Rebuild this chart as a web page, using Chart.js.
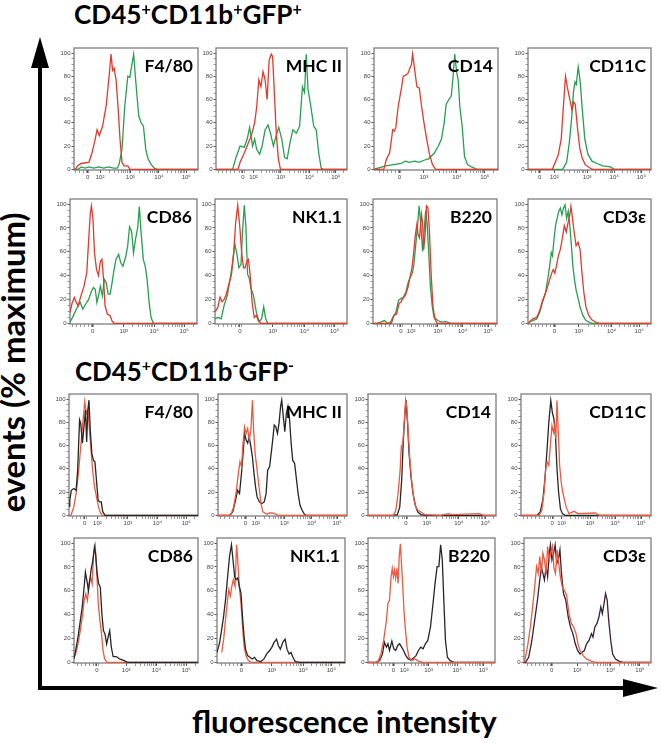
<!DOCTYPE html>
<html><head><meta charset="utf-8">
<script src="https://cdn.jsdelivr.net/npm/chart.js@4.4.1/dist/chart.umd.min.js"></script>
<style>
html,body{margin:0;padding:0;background:#fff;}
body{width:661px;height:743px;position:relative;overflow:hidden;}
.t{position:absolute;font-family:Lato,'Open Sans',sans-serif;font-weight:700;color:#000;white-space:nowrap;line-height:1;}
.sup{font-size:0.62em;position:relative;top:-0.6em;}
canvas{position:absolute;}
</style></head><body>
<svg width="661" height="743" style="position:absolute;left:0;top:0">
  <rect x="38" y="64" width="4" height="626" fill="#000"/>
  <polygon points="40,37 31,68 49,68" fill="#000"/>
  <rect x="38" y="686" width="588" height="4" fill="#000"/>
  <polygon points="658,688 623,679 623,697" fill="#000"/>
</svg>
<script>
// ---------- tick labels ----------
const LABELS_5 = ['0','10²','10³','10⁴','10⁵'];
const LABELS_4 = ['0','10³','10⁴','10⁵'];

// ---------- GFP+ group (red vs green) ----------
const A_F480_TICKS = [11, 21, 45.5, 68.5, 90.5];
const A_F480_RED = [[0,0],[1,0],[3,3],[5.7,5],[12,6],[14.5,14],[16.7,24],[18.6,34],[20.4,29],[23,37],[26,55],[28.3,80],[29.9,99],[31.1,85],[32.4,87],[34,76],[35.5,54],[37.1,26],[38.7,6],[40.3,3],[43.4,3],[45,0],[100,0]];
const A_F480_GREEN = [[0,0],[3,0],[6,2],[9,1],[12,2],[16,1],[20,2],[24,1],[28,2],[32,1],[35,1],[36.5,5],[38.7,17],[40.9,54],[43.4,80],[45,79],[46.5,89],[48.1,99],[49.7,77],[52.2,46],[54.1,40],[56,37],[57.9,17],[59.7,9],[62.3,4],[64.8,1],[67,0],[100,0]];

const A_MHC_TICKS = [20.6, 28.6, 49.5, 71.4, 91.4];
const A_MHC_RED = [[0,0],[16.8,0],[18.4,6],[21.6,14],[24.8,23],[27,29],[29.5,40],[31.1,54],[32.7,77],[34.3,71],[35.9,84],[37.5,77],[39,60],[40.6,94],[42.2,99],[43.2,97],[44.4,69],[46,31],[47.6,9],[49.2,0],[100,0]];
const A_MHC_GREEN = [[0,0],[12.7,0],[15.2,10],[18.4,20],[21.6,19],[23.8,26],[25.7,36],[27.9,20],[29.5,26],[31.1,17],[33.3,13],[35.2,20],[37.5,34],[39.7,38],[41.6,31],[43.8,20],[46,29],[47.9,36],[50.2,26],[52.4,10],[54.3,9],[56.5,23],[58.7,34],[61.3,31],[63.8,37],[66,71],[67.6,66],[68.9,99],[70.2,69],[72.4,54],[74.6,37],[76.5,34],[78.4,14],[80.3,1],[81.9,0],[100,0]];

const A_CD14_TICKS = [20.4, 40.2, 66.9, 89.3];
const A_CD14_RED = [[0,0],[7.9,0],[10.1,9],[12.6,14],[15.1,34],[16.4,33],[17.6,36],[19.5,54],[22,69],[23.6,80],[25.8,81],[27.7,83],[28.9,87],[30.2,90],[31.1,99],[32.4,89],[34.6,71],[36.5,70],[38.4,54],[40.3,40],[42.5,26],[44.7,13],[47.2,4],[49.7,0],[100,0]];
const A_CD14_GREEN = [[0,0],[9.4,3],[15.7,4],[22,5],[25.2,7],[28.3,6],[33,7],[36.2,6],[40.9,8],[44,9],[48.7,14],[51.9,20],[54.4,26],[56.6,40],[58.2,56],[60.4,60],[62.3,63],[63.8,80],[65.1,99],[66.7,83],[67.9,77],[69.2,54],[71.1,37],[73,11],[75.5,4],[78.6,2],[83.3,0],[100,0]];

const A_CD11C_TICKS = [9.4, 21.4, 48.1, 70.1, 92.1];
const A_CD11C_RED = [[0,0],[19.8,0],[24.5,12],[27,26],[28.9,56],[30.5,80],[32.1,70],[34,60],[35.8,51],[37.1,58],[38.4,56],[40.3,35],[42.1,18],[44,10],[46.5,4],[49.7,1.5],[52.8,0],[100,0]];
const A_CD11C_GREEN = [[0,0],[28.2,0],[31.4,6],[33.6,23],[35.5,44],[37,67],[38.3,75],[39.3,73],[40.8,88],[42.4,76],[44,53],[46.2,26],[48.7,13],[52,7],[56,5],[60.7,3],[67,2],[70.1,0],[100,0]];

const A_CD86_TICKS = [17.8, 42.3, 66.3, 89.9];
const A_CD86_RED = [[0,9],[1.8,17.5],[3.4,21.7],[4.9,17.5],[6.4,14.7],[8.6,23],[11,31],[13.2,42.5],[14.7,70],[16,92.5],[16.9,98.6],[18.1,87],[19.3,59],[20.9,45],[22.4,40],[23.9,52],[25.2,53.6],[26.4,37],[27.6,14.7],[29.4,7.8],[31.6,6.4],[33.1,2],[34.7,0],[100,0]];
const A_CD86_GREEN = [[0,1],[2.5,6],[5.5,13],[8,17.5],[10.1,12],[12.3,16],[14.7,20],[16.6,26],[18.4,30],[19.9,28.6],[21.2,17.5],[22.4,23],[23.9,31],[25.5,23],[27,37],[28.5,34],[30.1,24.4],[31.6,24.4],[33.1,34],[34.7,45],[36.2,53.6],[38.3,57.8],[39.9,51],[41.7,48],[43.9,56],[45.4,64.7],[46.9,81],[48.5,77],[50,59],[51.5,70],[53.4,81],[54.6,98],[55.8,78.6],[57.7,53.6],[59.2,48],[60.7,37],[62.3,17.5],[63.8,5],[65.6,0],[100,0]];

const A_NK11_TICKS = [18.8, 43.8, 67.8, 90.6];
const A_NK11_RED = [[0,9.4],[2.2,13.7],[3.8,22],[5.3,18],[6.9,20],[8.4,24],[10.3,32],[12.5,41],[14.1,58],[15.6,84],[17.2,99],[18.8,81],[20.3,58],[21.6,46.6],[22.8,46.6],[24.1,52],[25.3,53.7],[26.6,41],[28.1,18],[29.7,5],[31.3,6.6],[32.8,2.3],[34.7,0],[100,0]];
const A_NK11_GREEN = [[0,3.7],[2.2,5],[4.7,3.7],[6.9,15],[9.4,23.7],[11.6,38],[13.4,52],[15,66.6],[16.6,58],[18.1,46.6],[19.7,49.4],[20.9,78],[22.2,99],[23.4,81],[24.7,41],[25.9,38],[27.2,29.4],[29.1,23.7],[31.3,9.4],[33.4,1.4],[35.3,3.7],[36.9,13.7],[38.4,3.7],[40,0],[100,0]];

const A_B220_TICKS = [22.5, 30.8, 52.3, 72.3, 92.9];
const A_B220_RED = [[0,0],[14.8,0],[16.9,6.5],[19.1,8],[20.9,16.4],[22.5,17.8],[24,20.7],[26.2,23.5],[28.3,30.6],[30.2,40.5],[31.4,46],[32.9,60.3],[34.2,74.5],[35.4,83],[36.3,74.5],[37.5,71.7],[39.1,91.5],[40,84.4],[40.9,61.8],[42.2,77.3],[43.1,98.6],[44.3,97],[45.5,77.3],[46.8,43.3],[48.3,15],[49.8,3.7],[51.7,0],[100,0]];
const A_B220_GREEN = [[0,0],[3.1,0],[6.2,1],[9.2,2.3],[11.4,0.3],[13.8,0.3],[16,5],[18.5,9.3],[20.6,19.3],[22.5,20.7],[24.6,22],[26.5,26.3],[28.6,35],[30.2,39],[31.7,42],[32.9,49],[34.5,66],[36,83],[37.2,98.6],[38.5,83],[40,60.3],[41.2,77.3],[42.5,94.6],[43.7,83],[44.9,60.3],[46.2,32],[47.7,15],[49.2,5],[52.3,2.3],[55.4,1],[58.5,1.4],[63.1,0],[100,0]];

const A_CD3E_TICKS = [21.5, 41.3, 67.9, 90.4];
const A_CD3E_RED = [[0,0],[0.6,0],[3.8,3.7],[7.1,5],[9.6,11],[11.9,19.4],[14.1,25],[16,31],[17.6,36.6],[19.2,42],[20.5,45],[21.8,42],[23.1,48],[24.7,56.6],[26.3,62],[27.9,71],[29.5,82],[31.1,76.6],[32.7,85],[34,91],[34.9,98],[36.2,88],[37.5,76.6],[39.1,65],[40.7,68],[42.3,62],[43.9,42],[45.5,25],[47.1,13.7],[49.4,6.6],[51.9,2.9],[55.1,0.9],[57.7,0],[100,0]];
const A_CD3E_GREEN = [[0,0],[0.6,0],[3.8,2.3],[7.1,3.7],[9.6,9.4],[11.9,18],[14.1,25],[16,36.6],[17.6,48],[18.9,59.4],[19.9,56.6],[21.2,71],[22.4,82],[23.7,88],[25,94],[26.3,96.6],[27.6,91],[28.8,96.6],[30.1,99.4],[31.4,88],[32.7,94],[34,82],[35.3,65],[36.5,48],[37.8,36.6],[39.1,28],[40.4,22.3],[42.3,13.7],[44.6,6.6],[47.1,2.3],[51.9,0],[100,0]];

// ---------- GFP- group (red vs black) ----------
const B_F480_TICKS = [12.2, 22, 45.7, 68.6, 90.9];
const B_F480_RED = [[0,0],[1.5,0],[3.7,7],[5.5,18.7],[7.3,36],[9.1,59],[10.7,79],[12.2,97.7],[13.4,87.6],[14.6,90.5],[15.9,73],[17.1,56],[18.3,38.8],[19.8,24.4],[21.3,15.8],[22.9,7],[24.4,2],[25.9,0],[100,0]];
const B_F480_BLACK = [[0,8],[0.6,13],[1.8,21.5],[3.7,23],[5.5,21.5],[6.7,38.8],[8.2,82],[9.1,79],[10.4,62],[11.6,76],[12.8,90.5],[13.7,63],[14.6,90.5],[15.5,99],[16.5,73],[17.7,53],[18.9,47.4],[20.1,46],[21.3,30],[22.6,13],[23.8,11.5],[25,11.5],[26.2,2.9],[28,0],[100,0]];

const B_MHC_TICKS = [21.2, 29.4, 51.5, 72.7, 92.4];
const B_MHC_RED = [[0,0],[9.7,0],[12.1,7],[13.9,18.7],[15.8,36],[17,46],[18.2,41.7],[19.4,62],[20.6,76],[21.8,70.4],[23,74.7],[24.2,64.7],[25.5,73],[26.7,99],[27.6,73],[28.8,53],[30.3,38.8],[31.8,24.4],[33.3,10],[34.8,2.9],[37.9,0.9],[40,2],[42.4,2],[47,0],[100,0]];
const B_MHC_BLACK = [[0,0],[9.1,0],[11.5,3],[13.6,13],[15.2,21.5],[16.7,18.7],[18.2,36],[19.4,53],[20.6,70.4],[21.8,64.7],[23,62],[24.2,67.5],[25.5,59],[26.7,50],[27.9,36],[29.1,24.4],[30.3,15.8],[32.1,11.5],[33.9,10],[35.8,11.5],[37.3,18.7],[38.5,38.8],[40,41.7],[41.2,53],[42.4,64.7],[43.6,77.6],[44.8,76],[46.1,70.4],[47.3,79],[48.5,93.4],[49.4,99],[50.6,84.8],[51.8,71.8],[53,87.6],[54.2,93.4],[55.5,82],[56.7,62],[57.9,47.4],[59.4,44.5],[60.6,33],[62.1,18.7],[63.6,8.6],[65.2,4.3],[66.7,1.4],[68.2,0],[100,0]];

const B_CD14_TICKS = [29.7, 45.9, 70.9, 91.7];
const B_CD14_RED = [[0,0],[19.9,0],[21.7,4.3],[23.5,18.7],[25.1,38.8],[26,59],[27.2,62],[28.4,82],[29.4,99],[30.3,93.4],[31.5,70.4],[32.7,47.4],[34.3,27.3],[35.8,14.4],[37.3,7],[39.1,4.3],[41.3,2.9],[44.3,0.6],[56.6,0],[62.7,1.4],[65.7,0.5],[87.2,1.4],[90.2,0],[100,0]];
const B_CD14_BLACK = [[0,0],[19.3,0],[22.9,0.6],[24.8,7],[26.3,30],[27.5,62],[28.7,84.8],[29.7,99],[30.9,79],[32.1,53],[33.6,33],[35.2,18.7],[37,8.6],[38.8,2.9],[41.3,0.6],[44.3,0],[100,0]];

const B_CD11C_TICKS = [23.9, 31.3, 53.1, 72.5, 92.5];
const B_CD11C_RED = [[0,0],[14,0],[16,4.3],[17.8,20],[19,40],[20.2,45.7],[21.4,42.9],[22.6,60],[23.8,77],[25,71.4],[25.9,77],[26.8,65.7],[27.7,98.6],[28.6,74],[29.7,42.9],[30.9,28.6],[32.1,20],[33.3,14],[34.8,7],[36.9,1.4],[40.8,3.4],[43.8,1.4],[57.2,2],[60.2,0],[100,0]];
const B_CD11C_BLACK = [[0,0],[12.4,0],[14.8,2.9],[16.9,14],[18.4,31.4],[19.9,54],[21.4,80],[22.9,98.6],[24.1,88.6],[25.3,82.9],[26.5,68.6],[27.7,40],[28.9,20],[30.3,5.7],[31.8,1.4],[33.9,0],[100,0]];

const B_CD86_TICKS = [18.4, 42.1, 66.5, 90.5];
const B_CD86_RED = [[0,4.2],[1.3,7],[3.2,15.4],[5.1,26.6],[7,40.6],[8.2,51.8],[9.5,57.4],[10.8,51.8],[12,65.8],[13.3,71.4],[14.6,65.8],[15.8,91],[17.1,98],[18.4,74.2],[19.6,49],[20.9,35],[22.2,23.8],[23.4,9.8],[24.7,2.8],[26.6,0],[100,0]];
const B_CD86_BLACK = [[0,2.8],[1.3,9.8],[3.2,21],[5.1,35],[6.6,46.2],[7.9,60],[9.2,75.6],[10.4,68.6],[11.7,60],[12.7,68.6],[13.9,78.4],[15.2,85.4],[16.5,96.6],[17.4,91],[18.7,74.2],[19.9,65.8],[21.2,63],[22.5,40.6],[23.7,26.6],[25,23.8],[26.3,15.4],[27.5,21],[28.8,26.6],[30.1,12.6],[31.6,4.8],[34.2,4.8],[36.7,2.8],[40.5,1.4],[43,0],[100,0]];

const B_NK11_TICKS = [19, 42.8, 67.3, 89.3];
const B_NK11_RED = [[3.7,8.3],[5.2,19.4],[6.7,36],[8,50],[9.2,61],[10.4,55.6],[11.6,63.9],[12.8,69.4],[14.1,63.9],[15.3,98.6],[16.2,86],[17.4,63.9],[18.7,50],[19.9,30.6],[21.1,13.9],[22.6,5.6],[24.5,1.4],[26.6,0],[100,0]];
const B_NK11_BLACK = [[0,8.3],[2.1,16.7],[3.7,27.8],[5.2,38.9],[6.7,52.8],[8.3,72],[9.8,89],[11.3,98.6],[12.5,86],[13.8,72],[15,69.4],[16.2,70.8],[17.4,63.9],[18.7,58.3],[19.9,38.9],[21.1,22],[22.3,11],[23.9,5.6],[25.7,4.2],[27.5,2.8],[29.4,4.2],[31.2,1.4],[34.3,0.6],[36.7,2.8],[38.8,7],[41,9.7],[42.8,12.5],[44.6,16.7],[46.5,19.4],[48,13.9],[49.5,11],[51.4,16.7],[53.2,19.4],[54.7,11],[56.3,7],[57.8,8.3],[59.3,4.2],[61.2,0.6],[64.8,0],[100,0]];

const B_B220_TICKS = [20, 28.6, 47.7, 70.2, 90.8];
const B_B220_RED = [[0,0],[7.7,0],[10.2,7],[12.3,18.3],[14.5,35.2],[15.7,49.3],[16.9,52],[18.2,71.8],[19.1,78.9],[20,71.8],[20.9,77.5],[21.8,70.4],[22.8,78.9],[23.7,66.2],[24.6,88.7],[25.5,99.4],[26.5,80.3],[27.4,63.4],[28.3,43.7],[29.5,26.8],[30.8,12.7],[32.3,4.2],[34.5,1.4],[36.9,2.8],[40,0.8],[43.1,0],[100,0]];
const B_B220_BLACK = [[0,0],[6.2,0],[9.2,1.4],[11.4,7],[12.9,16.9],[14.5,12.7],[15.7,15.5],[16.9,9.9],[18.8,17.7],[20.3,11.3],[21.8,9.9],[23.4,14.1],[24.9,15.5],[26.5,12.7],[28,9.9],[29.8,5.6],[31.7,2.8],[33.8,2],[36,3.7],[37.8,5.6],[39.7,9.9],[41.5,12.7],[43.4,11.3],[45.2,15.5],[47.1,18.3],[49.2,29.6],[51.2,49.3],[52.8,66.2],[54.4,80.3],[55.8,80.3],[57.2,98.6],[58.5,85.9],[59.8,49.3],[61,18.3],[62.5,4.2],[64.7,1.4],[67.8,0],[100,0]];

const B_CD3E_TICKS = [21.7, 41.9, 68.3, 91.3];
const B_CD3E_RED = [[0,0],[1.2,4.2],[3.1,15.5],[5,29.6],[6.8,46.5],[8.4,63.4],[9.9,80.3],[11.2,74.6],[12.4,88.7],[13.7,74.6],[14.9,91.5],[16.1,85.9],[17.4,74.6],[18.6,97.2],[19.9,85.9],[21.1,91.5],[22.4,97.2],[23.6,78.9],[24.8,74.6],[26.1,94.4],[27.3,83],[28.6,71.8],[30.1,63.4],[31.7,60.6],[33.5,56.3],[35.4,40.8],[37.3,32.4],[39.1,29.6],[41,23.9],[42.5,15.5],[44.1,9.9],[46.6,5.6],[49.1,2.8],[53.4,0.8],[56.5,0],[100,0]];
const B_CD3E_BLACK = [[0,0],[1.2,0],[3.7,4.2],[6.2,18.3],[8.4,35.2],[10.6,52.1],[12.4,69],[13.7,80.3],[14.9,74.6],[16.1,69],[17.4,80.3],[18.6,71.8],[19.9,91.5],[20.8,98.6],[22,85.9],[23.3,91.5],[24.5,98.6],[25.8,83],[27,85.9],[28.3,94.4],[29.5,74.6],[31.1,57.7],[32.9,52.1],[34.8,38],[36.6,29.6],[38.5,23.9],[40.4,15.5],[42.2,9.9],[44.1,7],[47.5,9.9],[49.3,15.5],[51.2,18.3],[53.1,23.9],[54.3,21.1],[55.8,29.6],[57.4,32.4],[59,38],[60.5,46.5],[61.7,40.8],[63,49.3],[64.2,57.7],[65.5,52.1],[66.7,35.2],[68.3,18.3],[69.8,7],[72,2.8],[75.1,0.8],[78.2,0],[100,0]];

// ---------- colours ----------
const RED_A = '#e8372b', GREEN_A = '#25a04e';
const RED_B = '#f2583e', BLACK_B = '#262626', PURPLE_B = '#3b2233';

// ---------- panels ----------
const PANELS = [
  {label:'F4/80',  box:[74,48,198,170],  ticks:A_F480_TICKS,  labels:LABELS_5, series:[[A_F480_RED,RED_A],[A_F480_GREEN,GREEN_A]]},
  {label:'MHC II', box:[216,48,347,170], ticks:A_MHC_TICKS,   labels:LABELS_5, series:[[A_MHC_RED,RED_A],[A_MHC_GREEN,GREEN_A]]},
  {label:'CD14',   box:[374,48,498,170], ticks:A_CD14_TICKS,  labels:LABELS_4, series:[[A_CD14_RED,RED_A],[A_CD14_GREEN,GREEN_A]]},
  {label:'CD11C',  box:[528,48,651,170], ticks:A_CD11C_TICKS, labels:LABELS_5, series:[[A_CD11C_RED,RED_A],[A_CD11C_GREEN,GREEN_A]]},
  {label:'CD86',   box:[70,199,197,324], ticks:A_CD86_TICKS,  labels:LABELS_4, series:[[A_CD86_RED,RED_A],[A_CD86_GREEN,GREEN_A]]},
  {label:'NK1.1',  box:[215,199,347,324],ticks:A_NK11_TICKS,  labels:LABELS_4, series:[[A_NK11_RED,RED_A],[A_NK11_GREEN,GREEN_A]]},
  {label:'B220',   box:[373,199,497,324],ticks:A_B220_TICKS,  labels:LABELS_5, series:[[A_B220_RED,RED_A],[A_B220_GREEN,GREEN_A]]},
  {label:'CD3ε',   box:[528,199,651,324],ticks:A_CD3E_TICKS,  labels:LABELS_4, series:[[A_CD3E_RED,RED_A],[A_CD3E_GREEN,GREEN_A]]},
  {label:'F4/80',  box:[69,394,198,516], ticks:B_F480_TICKS,  labels:LABELS_5, series:[[B_F480_BLACK,BLACK_B],[B_F480_RED,RED_B]]},
  {label:'MHC II', box:[218,394,347,516],ticks:B_MHC_TICKS,   labels:LABELS_5, series:[[B_MHC_RED,RED_B],[B_MHC_BLACK,BLACK_B]]},
  {label:'CD14',   box:[368,394,496,516],ticks:B_CD14_TICKS,  labels:LABELS_4, series:[[B_CD14_RED,RED_B],[B_CD14_BLACK,BLACK_B]]},
  {label:'CD11C',  box:[521,394,651,516],ticks:B_CD11C_TICKS, labels:LABELS_5, series:[[B_CD11C_RED,RED_B],[B_CD11C_BLACK,BLACK_B]]},
  {label:'CD86',   box:[74,538,198,663], ticks:B_CD86_TICKS,  labels:LABELS_4, series:[[B_CD86_BLACK,BLACK_B],[B_CD86_RED,RED_B]]},
  {label:'NK1.1',  box:[217,538,345,663],ticks:B_NK11_TICKS,  labels:LABELS_4, series:[[B_NK11_BLACK,BLACK_B],[B_NK11_RED,RED_B]]},
  {label:'B220',   box:[368,538,495,663],ticks:B_B220_TICKS,  labels:LABELS_5, series:[[B_B220_RED,RED_B],[B_B220_BLACK,BLACK_B]]},
  {label:'CD3ε',   box:[524,538,651,663],ticks:B_CD3E_TICKS,  labels:LABELS_4, series:[[B_CD3E_RED,RED_B],[B_CD3E_BLACK,PURPLE_B]]}
];

// minor (unlabelled) tick marks derived from the labelled decade positions
function minorTicks(pos, labels){
  const m = {}; labels.forEach((l,i)=>m[l]=pos[i]);
  const out = [];
  const decs = ['10²','10³','10⁴','10⁵'];
  for (let i=0;i<3;i++){
    const a=m[decs[i]], b=m[decs[i+1]];
    if (a==null||b==null) continue;
    for (let k=2;k<10;k++) out.push(+(a+Math.log10(k)*(b-a)).toFixed(3));
  }
  const D = m['10⁵']-m['10⁴'];
  for (let k=2;k<4;k++){ const v=m['10⁵']+Math.log10(k)*D; if (v<99.5) out.push(+v.toFixed(3)); }
  const z = m['0'];
  for (let v=z-3; v>1.5; v-=3.2) out.push(+v.toFixed(3));
  out.push(+(z-1).toFixed(3), +(z+1).toFixed(3));
  return out;
}

const boxPlugin = {
  id:'panelBox',
  beforeDatasetsDraw(c){
    const a=c.chartArea, x=c.ctx;
    x.save(); x.strokeStyle='#7d7d7d'; x.lineWidth=1.3;
    x.strokeRect(a.left, a.top, a.right-a.left, a.bottom-a.top);
    x.restore();
  }
};

const padL=2,padT=6,padR=4,padB=2,YW=22,XH=14;

function makePanel(p){
  const [L,T,R,B]=p.box, bw=R-L, bh=B-T;
  const W=bw+padL+YW+padR, H=bh+padT+padB+XH;
  const cv=document.createElement('canvas');
  cv.width=W; cv.height=H; cv.style.width=W+'px'; cv.style.height=H+'px';
  cv.style.left=(L-padL-YW)+'px'; cv.style.top=(T-padT)+'px';
  document.body.appendChild(cv);
  const labelMap=new Map(p.ticks.map((v,i)=>[v,p.labels[i]]));
  const xt=[...minorTicks(p.ticks,p.labels), ...p.ticks].filter(v=>v>0&&v<100).sort((a,b)=>a-b);
  const yt=[]; for(let v=0; v<=100; v+=5) yt.push(v);
  const chart=new Chart(cv,{
    type:'line',
    data:{datasets:p.series.map(([pts,col])=>({
      data:pts.map(([x,y])=>({x,y})), borderColor:col, borderWidth:1.3,
      pointRadius:0, tension:0, fill:false }))},
    options:{
      responsive:false, animation:false, devicePixelRatio:1,
      layout:{padding:{left:padL,top:padT,right:padR,bottom:padB}},
      plugins:{legend:{display:false}, tooltip:{enabled:false}},
      scales:{
        x:{type:'linear', min:0, max:100,
           afterBuildTicks:s=>{s.ticks=xt.map(v=>({value:v}));},
           afterFit:s=>{s.height=XH;},
           border:{display:false},
           grid:{drawOnChartArea:false, drawTicks:true, tickLength:3,
                 tickColor:ctx=>labelMap.has(ctx.tick&&ctx.tick.value)?'#555':'#999', tickWidth:1},
           ticks:{autoSkip:false, maxRotation:0, minRotation:0, padding:1, color:'#444',
                  font:{size:6, family:'Liberation Sans'},
                  callback:v=>labelMap.has(v)?labelMap.get(v):''}},
        y:{min:-0.6, max:104.3,
           afterBuildTicks:s=>{s.ticks=yt.map(v=>({value:v}));},
           afterFit:s=>{s.width=YW;},
           border:{display:false},
           grid:{drawOnChartArea:false, drawTicks:true, tickLength:2.5,
                 tickColor:ctx=>(ctx.tick&&ctx.tick.value%20===0)?'#555':'#999', tickWidth:1},
           ticks:{autoSkip:false, padding:1, color:'#444', font:{size:6, family:'Liberation Sans'},
                  callback:v=>(v%20===0)?String(v):''}}
      }
    },
    plugins:[boxPlugin]
  });
  const a=chart.chartArea;
  cv.style.left=(L-a.left)+'px'; cv.style.top=(T-a.top)+'px';
  // panel label (top-right inside box)
  const d=document.createElement('div');
  d.className='t'; d.textContent=p.label; d.style.fontSize='17.5px';
  document.body.appendChild(d);
  d.style.left=(R-5-d.getBoundingClientRect().width)+'px';
  d.style.top=(T+9)+'px';
}
PANELS.forEach(makePanel);

// ---------- titles and axis labels ----------
function addText(html, size, left, baseline, targetW){
  const d=document.createElement('div');
  d.className='t'; d.innerHTML=html; d.style.fontSize=size+'px';
  document.body.appendChild(d);
  let s=size;
  if (targetW){ s=size*targetW/d.getBoundingClientRect().width; d.style.fontSize=s+'px'; }
  d.style.left=left+'px'; d.style.top=(baseline-0.887*s)+'px';
  return d;
}
addText('CD45<span class="sup">+</span>CD11b<span class="sup">+</span>GFP<span class="sup">+</span>', 25, 74, 24.5, 228);
addText('CD45<span class="sup">+</span>CD11b<span class="sup">-</span>GFP<span class="sup">-</span>', 25, 75, 382, 219);
addText('fluorescence intensity', 31, 192, 734, 305);

(function(){
  const d=document.createElement('div');
  d.className='t'; d.textContent='events (% maximum)'; d.style.fontSize='32px';
  document.body.appendChild(d);
  const w0=d.getBoundingClientRect().width;
  const s=32*300/w0; d.style.fontSize=s+'px';
  const w=d.getBoundingClientRect().width;
  const cx=27-0.387*s, cy=362.5;
  d.style.left=(cx-w/2)+'px'; d.style.top=(cy-s/2)+'px';
  d.style.transformOrigin='50% 50%'; d.style.transform='rotate(-90deg)';
})();
</script>
</body></html>
